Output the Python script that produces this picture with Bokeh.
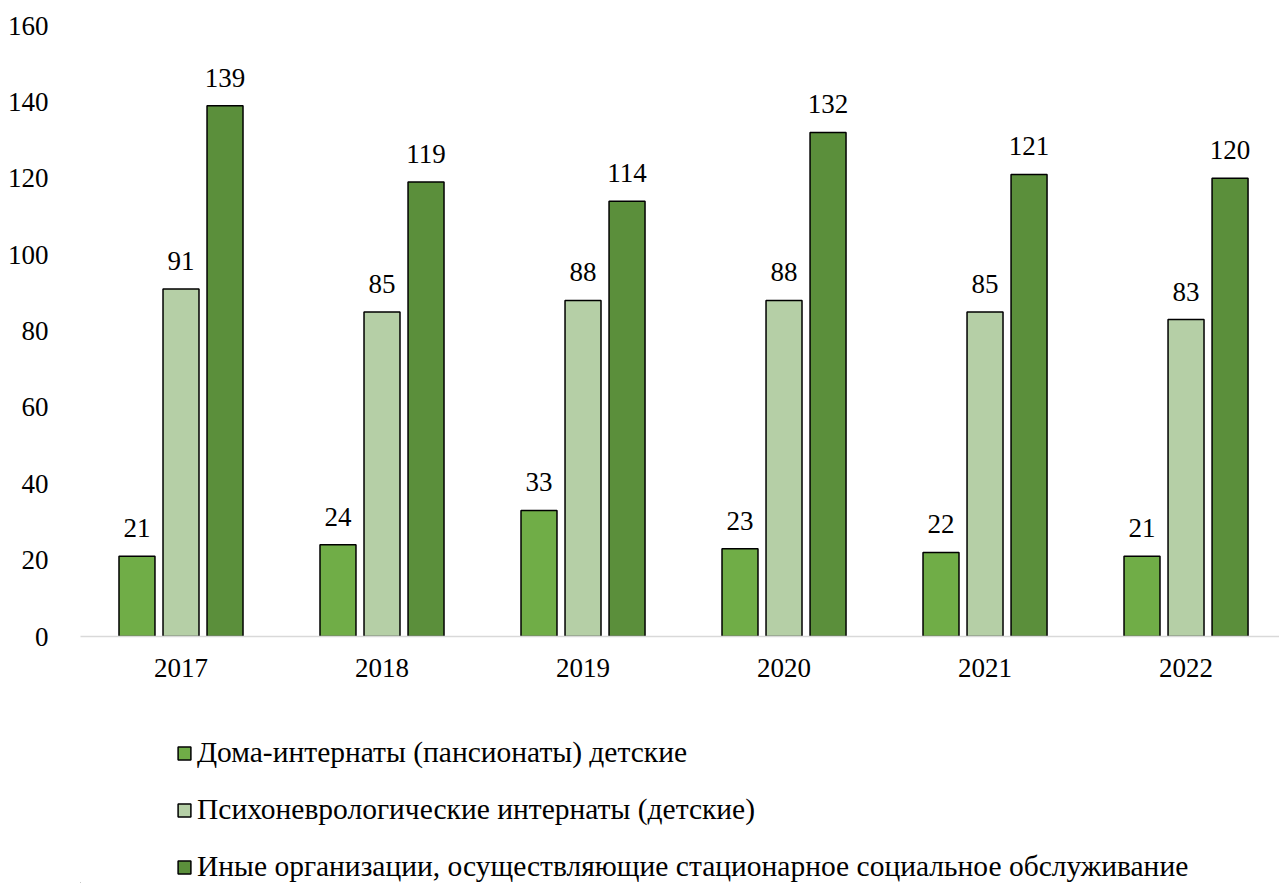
from bokeh.plotting import figure
from bokeh.models import Range1d, FixedTicker, ColumnDataSource, Legend, LegendItem, LabelSet
from bokeh.layouts import column
from bokeh.embed import file_html
from bokeh.resources import INLINE

years = ["2017", "2018", "2019", "2020", "2021", "2022"]
s1 = [21, 24, 33, 23, 22, 21]
s2 = [91, 85, 88, 88, 85, 83]
s3 = [139, 119, 114, 132, 121, 120]
names = ["Дома-интернаты (пансионаты) детские",
         "Психоневрологические интернаты (детские)",
         "Иные организации, осуществляющие стационарное социальное обслуживание"]
colors = ["#70AD47", "#B5CFA6", "#5B8F3B"]

FONT = "Liberation Serif"
FS = "27px"
W = 1279

p = figure(width=W, height=690, output_backend="svg", toolbar_location=None,
           x_range=Range1d(-0.5, 5.465), y_range=Range1d(0, 160),
           min_border_left=80, min_border_right=0, min_border_top=25, min_border_bottom=54)
p.outline_line_color = None
p.xgrid.visible = False
p.ygrid.visible = False

offsets = [-0.219, 0.0, 0.219]
for vals, off, col in zip([s1, s2, s3], offsets, colors):
    xs = [i + off for i in range(len(years))]
    src = ColumnDataSource(dict(x=xs, top=vals, lab=[str(v) for v in vals]))
    p.vbar(x="x", top="top", width=0.179, bottom=0, source=src,
           fill_color=col, line_color="black", line_width=1.5)
    lbl = LabelSet(x="x", y="top", text="lab", source=src, text_align="center",
                   text_baseline="bottom", y_offset=19, text_font=FONT,
                   text_font_size=FS, text_color="#000000")
    p.add_layout(lbl)

p.xaxis.ticker = FixedTicker(ticks=list(range(len(years))))
p.xaxis.major_label_overrides = {i: y for i, y in enumerate(years)}
p.xaxis.axis_line_color = "#D9D9D9"
p.xaxis.axis_line_width = 1.5
p.xaxis.major_tick_line_color = None
p.xaxis.minor_tick_line_color = None
p.xaxis.major_label_text_font = FONT
p.xaxis.major_label_text_font_size = FS
p.xaxis.major_label_text_color = "#000000"
p.xaxis.major_label_standoff = 16

p.yaxis.ticker = FixedTicker(ticks=list(range(0, 161, 20)))
p.yaxis.axis_line_color = None
p.yaxis.major_tick_line_color = None
p.yaxis.minor_tick_line_color = None
p.yaxis.major_label_text_font = FONT
p.yaxis.major_label_text_font_size = FS
p.yaxis.major_label_text_color = "#000000"
p.yaxis.major_label_standoff = 26

# legend panel
p2 = figure(width=W, height=193, output_backend="svg", toolbar_location=None,
            x_range=Range1d(0, 1), y_range=Range1d(0, 1),
            min_border_left=0, min_border_right=0, min_border_top=0, min_border_bottom=0)
p2.axis.visible = False
p2.grid.visible = False
p2.outline_line_color = None
leg_renderers = []
for col in colors:
    r = p2.vbar(x=[-10], top=[-10], bottom=[-11], width=0.1,
                fill_color=col, line_color="black", line_width=1.5)
    leg_renderers.append(r)

legend = Legend(items=[LegendItem(label=n, renderers=[r]) for n, r in zip(names, leg_renderers)],
                location=(96, 0), orientation="vertical",
                label_text_font=FONT, label_text_font_size="29.5px", label_text_color="#000000",
                glyph_width=16, glyph_height=16, label_height=30, label_standoff=5, spacing=24,
                padding=0, margin=0, border_line_color=None, background_fill_alpha=0)
p2.add_layout(legend, "center")

layout = column(p, p2, spacing=0)
open("out.html", "w").write(file_html(layout, INLINE))
